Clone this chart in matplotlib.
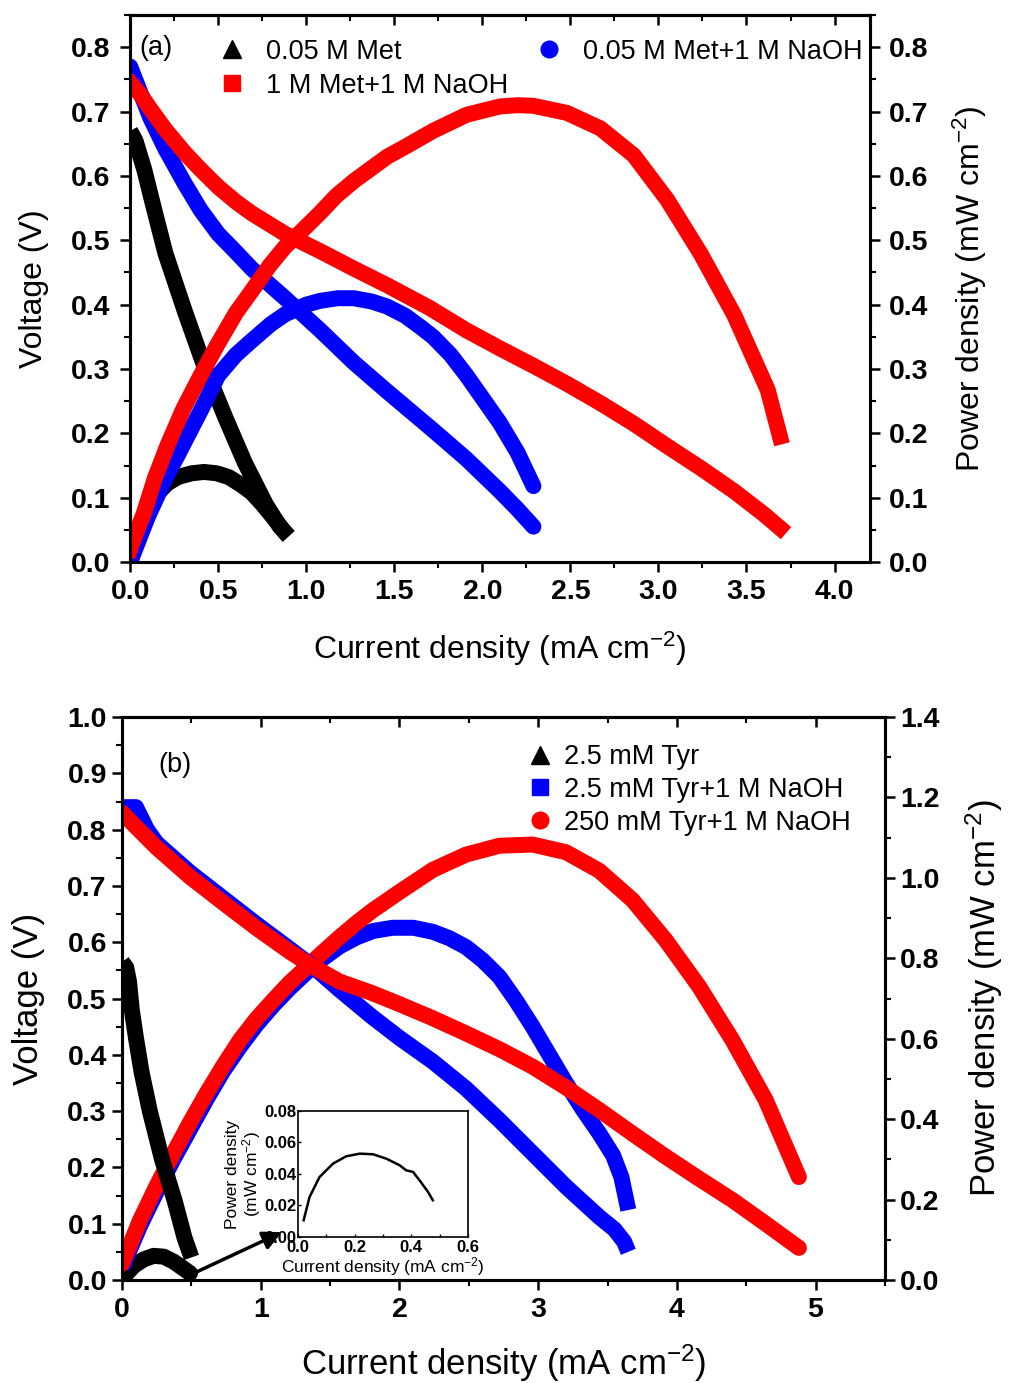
import matplotlib
matplotlib.use('Agg')
import matplotlib.pyplot as plt
from matplotlib.lines import Line2D
from matplotlib.ticker import MultipleLocator, FormatStrFormatter

plt.rcParams['font.family'] = ['Liberation Sans', 'DejaVu Sans']
plt.rcParams['mathtext.fontset'] = 'custom'
plt.rcParams['mathtext.rm'] = 'Liberation Sans'
plt.rcParams['mathtext.default'] = 'regular'

# ---- panel (a): metformin ----
a_met_iv = [0.0, 0.03, 0.08, 0.13, 0.2, 0.31, 0.42, 0.54, 0.65, 0.77, 0.85, 0.90]
a_met_v = [0.67, 0.655, 0.61, 0.555, 0.48, 0.39, 0.305, 0.225, 0.155, 0.09, 0.055, 0.04]
a_met_ip = [0.0, 0.03, 0.077, 0.15, 0.21, 0.27, 0.35, 0.42, 0.49, 0.56, 0.63, 0.69, 0.75, 0.81, 0.88, 0.90]
a_met_p = [0.0, 0.03, 0.066, 0.105, 0.122, 0.132, 0.138, 0.14, 0.138, 0.132, 0.12, 0.108, 0.09,
           0.07, 0.046, 0.04]

a_naoh_iv = [0.0, 0.05, 0.115, 0.2, 0.31, 0.4, 0.5, 0.6, 0.69, 0.88, 1.08, 1.27, 1.46, 1.72, 1.91,
             2.1, 2.2, 2.29]
a_naoh_v = [0.77, 0.735, 0.69, 0.642, 0.588, 0.547, 0.51, 0.482, 0.456, 0.41, 0.36, 0.31, 0.265,
            0.205, 0.16, 0.11, 0.082, 0.055]
a_naoh_ip = [0.0, 0.1, 0.2, 0.27, 0.4, 0.5, 0.6, 0.69, 0.8, 0.88, 1.0, 1.08, 1.18, 1.27, 1.37, 1.46,
             1.56, 1.65, 1.72, 1.82, 1.91, 2.0, 2.1, 2.2, 2.29]
a_naoh_p = [0.0, 0.07, 0.13, 0.166, 0.235, 0.29, 0.322, 0.344, 0.37, 0.385, 0.4, 0.406, 0.41, 0.41,
            0.405, 0.397, 0.383, 0.365, 0.35, 0.322, 0.29, 0.255, 0.216, 0.17, 0.118]

a_1m_iv = [0.0, 0.06, 0.115, 0.2, 0.31, 0.4, 0.5, 0.6, 0.69, 0.88, 1.08, 1.27, 1.46, 1.7, 1.91, 2.1,
           2.29, 2.48, 2.67, 2.86, 3.05, 3.24, 3.43, 3.6, 3.69]
a_1m_v = [0.745, 0.726, 0.704, 0.672, 0.636, 0.61, 0.583, 0.56, 0.542, 0.51, 0.483, 0.456, 0.43,
          0.395, 0.36, 0.332, 0.305, 0.277, 0.247, 0.215, 0.18, 0.146, 0.11, 0.074, 0.053]
a_1m_ip = [0.0, 0.04, 0.077, 0.14, 0.21, 0.30, 0.40, 0.5, 0.6, 0.7, 0.79, 0.88, 0.98, 1.08, 1.17,
           1.27, 1.37, 1.46, 1.56, 1.72, 1.91, 2.1, 2.2, 2.29, 2.48, 2.67, 2.86, 3.05, 3.24, 3.43,
           3.62, 3.69]
a_1m_p = [0.02, 0.05, 0.075, 0.13, 0.18, 0.237, 0.29, 0.34, 0.387, 0.425, 0.46, 0.49, 0.516, 0.543,
          0.569, 0.592, 0.612, 0.63, 0.645, 0.67, 0.695, 0.708, 0.71, 0.709, 0.698, 0.674, 0.632,
          0.563, 0.479, 0.384, 0.268, 0.195]

# ---- panel (b): tyrosine ----
b_tyr_iv = [0.0, 0.03, 0.05, 0.07, 0.1, 0.14, 0.2, 0.287, 0.38, 0.45, 0.5]
b_tyr_v = [0.565, 0.555, 0.53, 0.48, 0.43, 0.37, 0.30, 0.215, 0.14, 0.075, 0.04]
b_tyr_ip = [0.0, 0.036, 0.084, 0.155, 0.227, 0.3, 0.37, 0.44, 0.49]
b_tyr_p = [0.0, 0.017, 0.035, 0.051, 0.06, 0.058, 0.046, 0.029, 0.017]

b_low_iv = [0.0, 0.1, 0.18, 0.25, 0.49, 0.73, 0.97, 1.21, 1.38, 1.57, 1.8, 2.0, 2.24, 2.48, 2.72,
            2.96, 3.2, 3.44, 3.55, 3.62, 3.65]
b_low_v = [0.84, 0.84, 0.80, 0.776, 0.724, 0.678, 0.632, 0.588, 0.556, 0.515, 0.468, 0.43, 0.388,
           0.34, 0.284, 0.225, 0.166, 0.112, 0.09, 0.068, 0.05]
b_low_ip = [0.0, 0.13, 0.25, 0.37, 0.49, 0.61, 0.73, 0.85, 0.97, 1.09, 1.21, 1.33, 1.45, 1.57, 1.69,
            1.81, 1.95, 2.1, 2.24, 2.36, 2.48, 2.6, 2.72, 2.84, 2.96, 3.08, 3.2, 3.32, 3.44, 3.54,
            3.6, 3.65]
b_low_p = [0.03, 0.135, 0.22, 0.30, 0.375, 0.45, 0.52, 0.58, 0.635, 0.683, 0.726, 0.765, 0.80, 0.83,
           0.852, 0.868, 0.876, 0.876, 0.866, 0.85, 0.828, 0.795, 0.754, 0.695, 0.63, 0.56, 0.49,
           0.425, 0.365, 0.31, 0.256, 0.174]

b_high_iv = [0.0, 0.1, 0.25, 0.49, 0.73, 0.97, 1.21, 1.38, 1.57, 1.8, 2.0, 2.24, 2.48, 2.72, 2.96,
             3.2, 3.44, 3.68, 3.92, 4.16, 4.4, 4.64, 4.88]
b_high_v = [0.83, 0.805, 0.768, 0.716, 0.67, 0.625, 0.583, 0.556, 0.53, 0.51, 0.49, 0.465, 0.438,
            0.41, 0.379, 0.342, 0.302, 0.26, 0.219, 0.18, 0.142, 0.1, 0.057]
b_high_ip = [0.0, 0.13, 0.25, 0.37, 0.49, 0.61, 0.73, 0.85, 0.97, 1.09, 1.21, 1.33, 1.45, 1.57, 1.69,
             1.81, 2.0, 2.24, 2.48, 2.72, 2.96, 3.2, 3.44, 3.68, 3.92, 4.16, 4.4, 4.64, 4.88]
b_high_p = [0.04, 0.149, 0.235, 0.315, 0.392, 0.465, 0.533, 0.597, 0.65, 0.696, 0.74, 0.778, 0.816,
            0.853, 0.888, 0.92, 0.965, 1.02, 1.058, 1.08, 1.083, 1.064, 1.018, 0.945, 0.845, 0.73,
            0.597, 0.448, 0.256]

# inset: 2.5 mM Tyr power density
ins_i = [0.02, 0.041, 0.076, 0.124, 0.17, 0.218, 0.265, 0.312, 0.359, 0.382, 0.406, 0.429, 0.459, 0.476]
ins_p = [0.0106, 0.0254, 0.038, 0.0466, 0.0512, 0.0529, 0.0525, 0.0497, 0.0455, 0.0423, 0.0413,
         0.036, 0.0286, 0.0233]

LW = 11.5
BLUE = '#0000ff'
RED = '#ff0000'

fig = plt.figure(figsize=(10.09, 13.83), dpi=100)


def style_axes(ax, axr, xmaj, xmin, ymaj, ymin, rmaj, rmin, xfmt, yfmt, rfmt, ypad):
    for a in (ax, axr):
        for s in a.spines.values():
            s.set_linewidth(2.2)
    ax.xaxis.set_major_locator(MultipleLocator(xmaj))
    ax.xaxis.set_minor_locator(MultipleLocator(xmin))
    ax.yaxis.set_major_locator(MultipleLocator(ymaj))
    ax.yaxis.set_minor_locator(MultipleLocator(ymin))
    axr.yaxis.set_major_locator(MultipleLocator(rmaj))
    axr.yaxis.set_minor_locator(MultipleLocator(rmin))
    ax.xaxis.set_major_formatter(FormatStrFormatter(xfmt))
    ax.yaxis.set_major_formatter(FormatStrFormatter(yfmt))
    axr.yaxis.set_major_formatter(FormatStrFormatter(rfmt))
    for a in (ax, axr):
        a.tick_params(which='major', length=7, width=1.8, direction='out', labelsize=20.5)
        a.tick_params(which='minor', length=4, width=1.5, direction='out')
        a.tick_params(axis='y', pad=ypad)
        a.tick_params(axis='x', pad=5)
        for lab in a.get_xticklabels() + a.get_yticklabels():
            lab.set_fontweight('bold')
    top = ax.secondary_xaxis('top')
    top.xaxis.set_major_locator(MultipleLocator(xmaj))
    top.xaxis.set_minor_locator(MultipleLocator(xmin))
    top.tick_params(which='major', direction='in', length=7, width=1.8, labeltop=False)
    top.tick_params(which='minor', direction='in', length=4, width=1.5)
    top.spines['top'].set_linewidth(2.2)


# ================= panel (a) =================
ax1 = fig.add_axes([0.129, 0.5936, 0.733, 0.3955])
ax1r = ax1.twinx()
ax1.plot(a_met_iv, a_met_v, color='black', lw=LW, solid_capstyle='butt')
ax1.plot(a_naoh_iv, a_naoh_v, color=BLUE, lw=LW, solid_capstyle='round')
ax1.plot(a_1m_iv, a_1m_v, color=RED, lw=LW, solid_capstyle='projecting')
ax1r.plot(a_met_ip, a_met_p, color='black', lw=LW, solid_capstyle='butt')
ax1r.plot(a_naoh_ip, a_naoh_p, color=BLUE, lw=LW, solid_capstyle='round')
ax1r.plot(a_1m_ip, a_1m_p, color=RED, lw=LW, solid_capstyle='projecting')
ax1.set_xlim(0, 4.2)
ax1.set_ylim(0, 0.85)
ax1r.set_ylim(0, 0.85)
style_axes(ax1, ax1r, 0.5, 0.25, 0.1, 0.05, 0.1, 0.05, '%.1f', '%.1f', '%.1f', 7)
ax1.set_xlabel('Current density (mA cm$^{-2}$)', fontsize=23, labelpad=18)
ax1.set_ylabel('Voltage (V)', fontsize=23, labelpad=16)
ax1r.set_ylabel('Power density (mW cm$^{-2}$)', fontsize=23, labelpad=16)
ax1.text(0.013, 0.94, '(a)', transform=ax1.transAxes, fontsize=19.5, va='center')

h_a = [Line2D([], [], ls='none', marker='^', color='black', ms=13),
       Line2D([], [], ls='none', marker='s', color=RED, ms=12),
       Line2D([], [], ls='none', marker='o', color=BLUE, ms=12)]
ax1r.legend(h_a, ['0.05 M Met', '1 M Met+1 M NaOH', '0.05 M Met+1 M NaOH'], ncol=2,
            loc='upper left', bbox_to_anchor=(0.12, 0.957), frameon=False, fontsize=19.5,
            handlelength=1.0, handletextpad=0.75, columnspacing=1.0, borderpad=0,
            borderaxespad=0, labelspacing=0.3)

# ================= panel (b) =================
ax2 = fig.add_axes([0.121, 0.0745, 0.756, 0.407])
ax2r = ax2.twinx()
ax2.set_zorder(ax2r.get_zorder() + 1)
ax2.patch.set_visible(False)
ax2r.plot(b_tyr_ip, b_tyr_p, color='black', lw=LW, solid_capstyle='round')
ax2r.plot(b_low_ip, b_low_p, color=BLUE, lw=LW, solid_capstyle='butt')
ax2r.plot(b_high_ip, b_high_p, color=RED, lw=LW, solid_capstyle='round')
ax2.plot(b_tyr_iv, b_tyr_v, color='black', lw=LW, solid_capstyle='butt')
ax2.plot(b_low_iv, b_low_v, color=BLUE, lw=LW, solid_capstyle='butt')
ax2.plot(b_high_iv, b_high_v, color=RED, lw=LW, solid_capstyle='round')
ax2.set_xlim(0, 5.5)
ax2.set_ylim(0, 1.0)
ax2r.set_ylim(0, 1.4)
style_axes(ax2, ax2r, 1, 0.5, 0.1, 0.05, 0.2, 0.1, '%d', '%.1f', '%.1f', 4)
ax2.set_xlabel('Current density (mA cm$^{-2}$)', fontsize=25, labelpad=14)
ax2.set_ylabel('Voltage (V)', fontsize=25, labelpad=16)
ax2r.set_ylabel('Power density (mW cm$^{-2}$)', fontsize=25, labelpad=17)
ax2.text(0.047, 0.915, '(b)', transform=ax2.transAxes, fontsize=19.5, va='center')

h_b = [Line2D([], [], ls='none', marker='^', color='black', ms=13),
       Line2D([], [], ls='none', marker='s', color=BLUE, ms=12),
       Line2D([], [], ls='none', marker='o', color=RED, ms=12)]
ax2.legend(h_b, ['2.5 mM Tyr', '2.5 mM Tyr+1 M NaOH', '250 mM Tyr+1 M NaOH'],
           loc='upper left', bbox_to_anchor=(0.53, 0.952), frameon=False, fontsize=19.5,
           handlelength=1.0, handletextpad=0.4, borderpad=0, borderaxespad=0, labelspacing=0.25)

ax2.annotate('', xy=(1.17, 0.087), xytext=(0.5, 0.01),
             arrowprops=dict(arrowstyle='-|>', lw=2.5, color='black', mutation_scale=28))

# inset
axi = fig.add_axes([0.2953, 0.1056, 0.1685, 0.0911])
axi.set_zorder(ax2.get_zorder() + 1)
axi.plot(ins_i, ins_p, color='black', lw=1.8)
axi.set_xlim(0, 0.6)
axi.set_ylim(0, 0.08)
axi.xaxis.set_major_locator(MultipleLocator(0.2))
axi.xaxis.set_minor_locator(MultipleLocator(0.1))
axi.yaxis.set_major_locator(MultipleLocator(0.02))
axi.xaxis.set_major_formatter(FormatStrFormatter('%.1f'))
axi.yaxis.set_major_formatter(FormatStrFormatter('%.2f'))
axi.tick_params(which='both', direction='in', length=2, width=1, labelsize=12, pad=1)
axi.tick_params(axis='x', pad=2)
for lab in axi.get_xticklabels() + axi.get_yticklabels():
    lab.set_fontweight('bold')
for s in axi.spines.values():
    s.set_linewidth(1.2)
axi.set_xlabel('Current density (mA cm$^{-2}$)', fontsize=12.5, labelpad=0)
axi.set_ylabel('Power density\n(mW cm$^{-2}$)', fontsize=12.5, labelpad=1, linespacing=1.0)

fig.savefig('out.png', dpi=100)
